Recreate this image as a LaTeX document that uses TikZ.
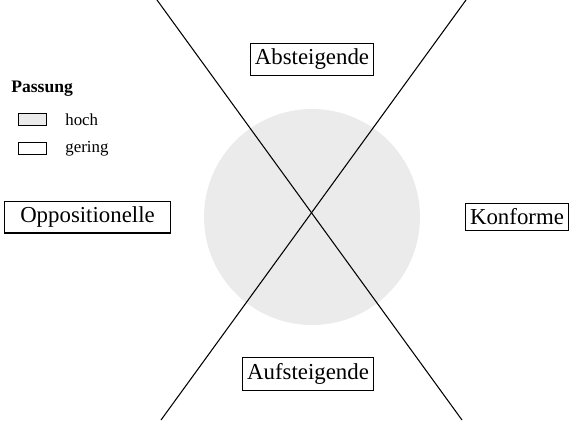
\documentclass[tikz,border=0pt]{standalone}
\usepackage{fontspec}
\setmainfont{Liberation Serif}
\definecolor{passung}{gray}{0.92}
\tikzset{
  feld/.style={draw, line width=0.6pt, fill=white, font=\fontsize{13}{15}\selectfont,
    inner xsep=2.5pt, inner ysep=3.2pt},
  probe/.style={draw, line width=0.5pt, minimum width=0.56cm, minimum height=0.24cm, inner sep=0pt},
  legtext/.style={anchor=west, font=\fontsize{9.6}{11}\selectfont, inner sep=0pt}
}

\begin{document}
\begin{tikzpicture}[x=0.02cm, y=-0.02cm]
	\useasboundingbox (0,0) rectangle (570,420);
	% Kreis
	\node[circle, fill=passung, minimum size=4.32cm, inner sep=0pt] (kreis) at (312,217) {};
	% Achsen
	\coordinate (ol) at (157,0);
	\coordinate (ur) at (462,420);
	\coordinate (or) at (466,0);
	\coordinate (ul) at (161,420);
	\draw[line width=0.6pt] (ol) -- (ur);
	\draw[line width=0.6pt] (or) -- (ul);
	% Felder
	\node[feld] (ab) at (312,59.5) {Absteigende};
	\node[feld] (auf) at (308,374) {Aufsteigende};
	\node[feld, minimum width=3.33cm] (opp) at (87.5,217) {Oppositionelle};
	\node[feld] (konf) at (517,217) {Konforme};
	% Legende
	\node[anchor=base west, inner sep=0pt, font=\fontsize{10}{12}\selectfont\bfseries] (leg) at (11,92) {Passung};
	\node[probe, fill=passung] (hoch) at (32,119.5) {};
	\node[probe] (gering) at (32,148.5) {};
	\node[legtext] at (65,119.5) {hoch};
	\node[legtext] at (65,148.5) {gering};
\end{tikzpicture}
\end{document}
